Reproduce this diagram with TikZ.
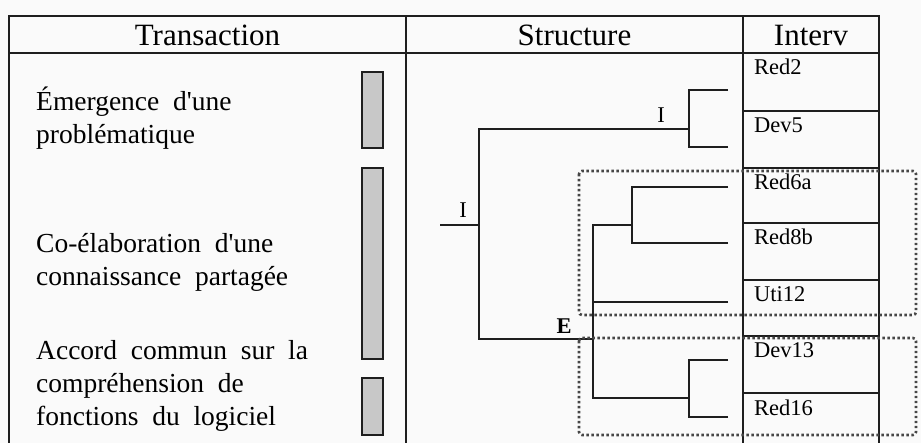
\documentclass[tikz,border=0pt]{standalone}
\usepackage{fontspec}
\setmainfont{Liberation Serif}
\definecolor{paper}{RGB}{250,250,250}
\definecolor{ink}{RGB}{30,30,30}
\definecolor{barfill}{RGB}{200,200,200}
\definecolor{dotink}{RGB}{70,70,70}
\tikzset{
  rule/.style={draw=ink, line width=1.5pt},
  branch/.style={draw=ink, line width=1.3pt},
  bar/.style={draw=ink, line width=1.2pt, fill=barfill},
  group/.style={draw=dotink, line width=2.6pt, dash pattern=on 2.4pt off 2.6pt, rounded corners=3pt},
  head/.style={font=\fontsize{31}{36}\selectfont, inner sep=0pt, anchor=base},
  phase/.style={font=\fontsize{27.5}{33}\selectfont, inner sep=0pt, align=left, anchor=base west},
  speaker/.style={font=\fontsize{22.5}{26}\selectfont, inner sep=0pt, anchor=base west},
  rel/.style={font=\fontsize{22.5}{26}\selectfont, inner sep=0pt, anchor=base},
}
\begin{document}
\begin{tikzpicture}[x=1pt,y=-1pt]
\useasboundingbox (0,0) rectangle (921,443);
\fill[paper] (0,0) rectangle (921,443);

% table frame and columns
\draw[rule] (9,443) -- (9,16) -- (879,16) -- (879,443);
\draw[rule] (9,53) -- (879,53);
\draw[rule] (406,16) -- (406,443);
\draw[rule] (743,16) -- (743,443);
\foreach \y in {111,168,223,280,336,393}
  \draw[rule] (743,\y) -- (879,\y);

% headers
\node[head] (hT) at (207.5,46) {Transaction};
\node[head] (hS) at (574.5,46) {Structure};
\node[head] (hI) at (811,46) {Interv};

% transaction phases (anchored on the baseline of the last line)
\node[phase] (p1) at (36,144) {Émergence\ \ d\textquotesingle une\\problématique};
\node[phase] (p2) at (36,286) {Co-élaboration\ \ d\textquotesingle une\\connaissance\ \ partagée};
\node[phase] (p3) at (36,425) {Accord\ \ commun\ \ sur\ \ la\\compréhension\ \ de\\fonctions\ \ du\ \ logiciel};

\draw[bar] (362,72) rectangle (383,148);
\draw[bar] (362,168) rectangle (383,359);
\draw[bar] (362,378) rectangle (383,435);

% speakers
\node[speaker] (s1) at (754,75) {Red2};
\node[speaker] (s2) at (754,133) {Dev5};
\node[speaker] (s3) at (754,190) {Red6a};
\node[speaker] (s4) at (754,245) {Red8b};
\node[speaker] (s5) at (754,302) {Uti12};
\node[speaker] (s6) at (754,358) {Dev13};
\node[speaker] (s7) at (754,415) {Red16};

% leaves and branch points of the tree
\coordinate (l1) at (728,90);
\coordinate (l2) at (728,147);
\coordinate (l3) at (728,187);
\coordinate (l4) at (728,243);
\coordinate (l5) at (728,302);
\coordinate (l6) at (728,360);
\coordinate (l7) at (728,417);
\coordinate (b1) at (689,129);
\coordinate (b2) at (632,225);
\coordinate (b3) at (593,263);
\coordinate (b4) at (689,398);
\coordinate (b5) at (593,339);
\coordinate (b6) at (479,225);
\coordinate (root) at (440,225);

\draw[branch] (l1) -| (b1);
\draw[branch] (l2) -| (b1);
\draw[branch] (l3) -| (b2);
\draw[branch] (l4) -| (b2);
\draw[branch] (b2) -| (b3);
\draw[branch] (l5) -| (b3);
\draw[branch] (l6) -| (b4);
\draw[branch] (l7) -| (b4);
\draw[branch] (b3) -| (b5);
\draw[branch] (b4) -| (b5);
\draw[branch] (b1) -| (b6);
\draw[branch] (b5) -| (b6);
\draw[branch] (b6) -- (root);

\node[rel] (r1) at (661,123) {I};
\node[rel] (r2) at (463,218) {I};
\node[rel, font=\fontsize{22.5}{26}\selectfont\bfseries] (r3) at (564,334) {E};

% groupings
\draw[group] (579,171) rectangle (916,315);
\draw[group] (579,338) rectangle (916,435);
\end{tikzpicture}
\end{document}
